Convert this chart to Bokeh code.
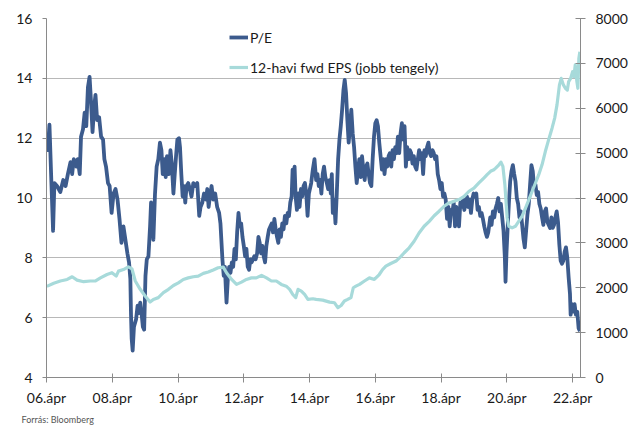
from bokeh.plotting import figure
from bokeh.models import (Range1d, LinearAxis, FixedTicker, Legend, LegendItem, Title)
from bokeh.embed import file_html
from bokeh.resources import INLINE

# ---- data (decimal years) ----
pe_year = [
    2006.26, 2006.29, 2006.34, 2006.39, 2006.45, 2006.49, 2006.57, 2006.67, 2006.76, 2006.83, 2006.90, 2006.98,
    2007.03, 2007.08, 2007.16, 2007.20, 2007.26, 2007.30, 2007.36, 2007.41, 2007.46, 2007.51, 2007.56, 2007.60,
    2007.65, 2007.70, 2007.74, 2007.79, 2007.85, 2007.91, 2007.97,
    2008.01, 2008.06, 2008.12, 2008.17, 2008.23, 2008.29, 2008.35, 2008.41, 2008.47, 2008.53, 2008.59, 2008.65,
    2008.71, 2008.76, 2008.80, 2008.82, 2008.84, 2008.87, 2008.91, 2008.975,
    2009.02, 2009.06, 2009.10, 2009.14, 2009.18, 2009.22, 2009.26, 2009.30, 2009.35, 2009.40, 2009.43, 2009.47,
    2009.50, 2009.55, 2009.60, 2009.65, 2009.70, 2009.745, 2009.785, 2009.835, 2009.875, 2009.915, 2009.97,
    2010.02, 2010.06, 2010.11, 2010.15, 2010.19, 2010.23, 2010.28, 2010.31, 2010.35, 2010.39, 2010.43, 2010.47,
    2010.51, 2010.56, 2010.61, 2010.66, 2010.715, 2010.775, 2010.835, 2010.895, 2010.935, 2010.99,
    2011.04, 2011.10, 2011.14, 2011.18, 2011.22, 2011.27, 2011.32, 2011.38, 2011.44, 2011.50, 2011.54,
    2011.60, 2011.64, 2011.675, 2011.705, 2011.725, 2011.765, 2011.806, 2011.846, 2011.887, 2011.927, 2011.967,
    2012.008, 2012.048, 2012.089, 2012.129, 2012.17, 2012.21, 2012.25, 2012.29, 2012.33, 2012.37, 2012.41,
    2012.45, 2012.49, 2012.53, 2012.57, 2012.61, 2012.655, 2012.695, 2012.735, 2012.775, 2012.815, 2012.856,
    2012.897, 2012.937, 2012.978,
    2013.018, 2013.058, 2013.099, 2013.139, 2013.18, 2013.22, 2013.26, 2013.30, 2013.34, 2013.38, 2013.42,
    2013.46, 2013.50, 2013.543, 2013.584, 2013.624, 2013.664, 2013.705, 2013.735, 2013.765, 2013.795, 2013.826,
    2013.866, 2013.907, 2013.947, 2013.988,
    2014.028, 2014.068, 2014.109, 2014.149, 2014.19, 2014.23, 2014.30, 2014.35, 2014.40, 2014.45, 2014.49,
    2014.53, 2014.57, 2014.61, 2014.65, 2014.69, 2014.73, 2014.775, 2014.816, 2014.856, 2014.896, 2014.927,
    2014.957, 2014.997,
    2015.038, 2015.078, 2015.119, 2015.159, 2015.199, 2015.24, 2015.28, 2015.32, 2015.36, 2015.40, 2015.44,
    2015.48, 2015.52, 2015.563, 2015.604, 2015.644, 2015.684, 2015.725, 2015.765, 2015.806, 2015.846, 2015.886,
    2015.927, 2015.967,
    2016.008, 2016.048, 2016.088, 2016.129, 2016.169, 2016.21, 2016.25, 2016.29, 2016.33, 2016.37, 2016.41,
    2016.45, 2016.49, 2016.53, 2016.573, 2016.614, 2016.654, 2016.694, 2016.735, 2016.775, 2016.816, 2016.856,
    2016.896, 2016.937, 2016.977,
    2017.017, 2017.058, 2017.098, 2017.139, 2017.179, 2017.22, 2017.26, 2017.30, 2017.34, 2017.38, 2017.42,
    2017.462, 2017.502, 2017.543, 2017.583, 2017.623, 2017.664, 2017.704, 2017.745, 2017.785, 2017.825, 2017.866,
    2017.906, 2017.947, 2017.987,
    2018.027, 2018.068, 2018.108, 2018.149, 2018.189, 2018.23, 2018.27, 2018.31, 2018.35, 2018.39, 2018.431,
    2018.472, 2018.512, 2018.553, 2018.593, 2018.634, 2018.674, 2018.714, 2018.755, 2018.795, 2018.836, 2018.876,
    2018.916, 2018.957, 2018.997,
    2019.037, 2019.078, 2019.118, 2019.159, 2019.199, 2019.24, 2019.28, 2019.32, 2019.36, 2019.40, 2019.441,
    2019.482, 2019.522, 2019.563, 2019.603, 2019.644, 2019.684, 2019.745, 2019.786, 2019.826, 2019.867, 2019.907,
    2019.947, 2019.988,
    2020.028, 2020.069, 2020.109, 2020.149, 2020.19, 2020.21, 2020.24, 2020.27, 2020.311, 2020.351, 2020.392,
    2020.432, 2020.473, 2020.513, 2020.553, 2020.594, 2020.634, 2020.675, 2020.715, 2020.755, 2020.796, 2020.836,
    2020.877, 2020.917, 2020.957, 2020.998,
    2021.038, 2021.079, 2021.119, 2021.16, 2021.20, 2021.24, 2021.28, 2021.321, 2021.361, 2021.402, 2021.442,
    2021.483, 2021.523, 2021.564, 2021.604, 2021.644, 2021.685, 2021.725, 2021.766, 2021.806, 2021.846, 2021.887,
    2021.927, 2021.968,
    2022.008, 2022.048, 2022.089, 2022.129, 2022.17, 2022.19, 2022.23, 2022.27, 2022.31, 2022.35, 2022.392,
    2022.432, 2022.473,
]
pe_value = [
    11.7, 11.6, 12.45, 10.8, 8.9, 10.5, 10.4, 10.2, 10.6, 10.4, 10.8, 11.2,
    10.8, 11.3, 11.05, 11.3, 10.8, 12.05, 12.3, 12.85, 12.4, 13.7, 14.05, 13.3,
    12.2, 13.05, 13.45, 12.6, 12.7, 12.05, 11.95,
    11.3, 11.05, 10.5, 10.4, 9.5, 10.15, 10.3, 9.95, 9.3, 8.5, 9.05, 8.6,
    8.15, 7.85, 7.3, 6.1, 5.3, 4.9, 5.7, 5.95,
    6.4, 6.15, 6.5, 6.15, 5.7, 5.6, 7.4, 7.95, 8.05, 9.05, 9.85, 9.4,
    8.6, 10.15, 11.05, 11.3, 11.85, 11.6, 10.8, 11.3, 10.7, 11.4, 10.8,
    11.6, 11.15, 10.15, 10.8, 11.4, 11.95, 12.0, 11.7, 10.8, 10.05, 10.4, 9.85,
    10.4, 10.5, 10.3, 10.05, 10.5, 10.4, 10.5, 9.4, 9.7, 9.85,
    10.15, 9.95, 10.3, 9.7, 10.05, 10.4, 9.95, 10.15, 9.7, 9.5, 9.15,
    7.95, 7.4, 7.7, 6.95, 6.5, 7.3, 7.7, 7.5, 7.85, 7.7, 8.3,
    7.95, 8.85, 9.5, 9.05, 9.15, 8.7, 8.4, 8.05, 8.3, 7.7, 7.6,
    7.95, 7.85, 7.95, 8.05, 7.95, 8.15, 8.7, 8.5, 8.15, 8.4, 8.05,
    7.85, 8.4, 8.7,
    8.95, 9.05, 9.15, 8.85, 9.3, 8.95, 8.7, 8.5, 8.95, 8.7, 9.15,
    8.95, 9.4, 9.15, 9.5, 9.4, 9.85, 10.05, 10.95, 10.7, 11.05, 10.05,
    9.6, 10.15, 9.7, 10.3,
    10.05, 10.4, 10.5, 10.15, 9.4, 10.15, 10.5, 10.95, 11.3, 10.6, 10.8,
    10.4, 10.6, 10.15, 10.8, 11.05, 10.7, 10.5, 10.3, 10.6, 10.15, 10.8,
    9.5, 9.95,
    9.15, 10.15, 11.3, 11.95, 12.4, 12.95, 13.6, 13.95, 13.5, 12.6, 11.85,
    12.4, 12.95, 12.15, 11.7, 11.05, 10.5, 10.95, 11.3, 10.7, 11.4, 10.95,
    10.6, 11.05,
    11.15, 10.8, 10.5, 10.4, 11.3, 12.05, 12.5, 12.6, 12.4, 11.85, 11.4,
    10.95, 11.3, 10.8, 11.3, 11.05, 11.4, 11.5, 11.05, 11.6, 11.3, 11.7,
    11.5, 12.05, 11.5,
    12.15, 12.5, 11.95, 12.4, 11.05, 11.7, 11.3, 11.6, 11.5, 11.15, 11.4,
    11.05, 10.95, 11.3, 11.6, 11.3, 11.5, 10.8, 11.6, 11.4, 11.7, 11.85,
    11.5, 11.4, 11.6,
    11.5, 11.3, 11.4, 10.8, 10.6, 10.3, 10.5, 10.05, 10.15, 9.95, 9.3,
    9.7, 9.05, 9.6, 9.5, 9.85, 9.05, 9.7, 9.4, 9.05, 9.85, 9.7,
    9.95, 9.6, 9.85,
    10.05, 9.7, 9.95, 9.5, 9.95, 10.15, 10.05, 10.15, 9.6, 9.7, 9.4,
    9.5, 9.3, 9.05, 8.85, 8.7, 8.85, 9.35, 9.1, 9.55, 9.35, 9.65,
    9.8, 10.0,
    9.55, 9.8, 9.35, 8.9, 8.0, 7.2, 8.2, 8.9, 9.8, 10.55, 10.9,
    11.1, 10.8, 10.55, 10.0, 9.8, 9.35, 9.55, 9.1, 8.65, 8.35, 8.9,
    9.45, 9.8, 10.45, 11.1,
    10.9, 10.35, 10.45, 10.1, 10.2, 9.8, 9.65, 9.35, 9.1, 9.55, 9.65,
    9.2, 9.1, 9.0, 9.35, 9.0, 9.1, 9.35, 9.55, 9.2, 8.45, 7.9,
    7.8, 7.9,
    8.2, 8.35, 8.0, 7.35, 6.8, 6.1, 6.45, 6.2, 6.45, 6.1, 6.2,
    5.65, 5.55,
]

eps_year = [
    2006.26, 2006.47, 2006.67, 2006.88, 2007.03, 2007.18, 2007.38, 2007.58, 2007.73, 2007.89, 2008.09, 2008.24,
    2008.37, 2008.44, 2008.59, 2008.74, 2008.85, 2008.95, 2009.10, 2009.25, 2009.40, 2009.50, 2009.65, 2009.805,
    2009.96, 2010.11, 2010.26, 2010.41, 2010.56, 2010.715, 2010.865, 2011.02, 2011.17, 2011.32, 2011.47, 2011.625,
    2011.725, 2011.88, 2012.03, 2012.18, 2012.33, 2012.48, 2012.63, 2012.79, 2012.94, 2013.09, 2013.24, 2013.39,
    2013.54, 2013.645, 2013.74, 2013.83, 2013.90, 2014.00, 2014.10, 2014.20, 2014.35, 2014.45, 2014.65, 2014.86,
    2015.01, 2015.11, 2015.21, 2015.31, 2015.41, 2015.51, 2015.58, 2015.66, 2015.77, 2015.92, 2016.07, 2016.22,
    2016.37, 2016.47, 2016.57, 2016.72, 2016.88, 2017.03, 2017.13, 2017.28, 2017.43, 2017.58, 2017.735, 2017.89,
    2018.04, 2018.19, 2018.34, 2018.49, 2018.64, 2018.795, 2018.95, 2019.10, 2019.25, 2019.40, 2019.55, 2019.65,
    2019.755, 2019.855, 2019.91, 2020.01, 2020.07, 2020.13, 2020.19, 2020.26, 2020.31, 2020.41, 2020.51, 2020.61,
    2020.715, 2020.82, 2020.92, 2021.02, 2021.12, 2021.22, 2021.32, 2021.42, 2021.52, 2021.625, 2021.705, 2021.775,
    2021.85, 2021.905, 2021.97, 2022.03, 2022.09, 2022.13, 2022.19, 2022.25, 2022.29, 2022.33, 2022.38, 2022.41,
    2022.44, 2022.47,
]
eps_value = [
    2030, 2100, 2150, 2185, 2245, 2170, 2135, 2150, 2150, 2220, 2295, 2335,
    2260, 2370, 2405, 2465, 2420, 2150, 1965, 1815, 1680, 1740, 1780, 1890,
    1965, 2050, 2110, 2185, 2220, 2245, 2260, 2320, 2350, 2395, 2445, 2460,
    2335, 2185, 2075, 2125, 2185, 2220, 2220, 2275, 2220, 2150, 2150, 2075,
    2035, 1965, 1850, 1780, 1965, 1925, 1850, 1740, 1755, 1740, 1725, 1680,
    1665, 1555, 1605, 1705, 1740, 1780, 2000, 2035, 2075, 2150, 2220, 2185,
    2295, 2405, 2480, 2540, 2595, 2700, 2780, 2890, 3035, 3220, 3370, 3480,
    3605, 3705, 3815, 3890, 3925, 3965, 4035, 4150, 4220, 4335, 4445, 4520,
    4595, 4630, 4665, 4740, 4800, 4705, 4295, 3555, 3370, 3335, 3370, 3480,
    3595, 3780, 3965, 4150, 4335, 4520, 4740, 5035, 5295, 5555, 5780, 6075,
    6520, 6665, 6520, 6445, 6405, 6595, 6665, 6815, 6705, 6965, 6595, 6445,
    7110, 7260,
]

tick_years = [2006, 2008, 2010, 2012, 2014, 2016, 2018, 2020, 2022]
tick_labels = ["06.ápr", "08.ápr", "10.ápr", "12.ápr", "14.ápr", "16.ápr", "18.ápr", "20.ápr", "22.ápr"]
left_ticks = [4, 6, 8, 10, 12, 14, 16]
right_ticks = [0, 1000, 2000, 3000, 4000, 5000, 6000, 7000, 8000]
source_text = "Forrás: Bloomberg"

PE_COLOR = "#3c5b8d"
EPS_COLOR = "#a7dada"
FONT = "Lato"
AX_COLOR = "#8a8a8a"
TXT = "#1a1a1a"

x_ticks = [y + 0.25 for y in tick_years]  # April

p = figure(width=630, height=427, output_backend="svg", toolbar_location=None,
           x_range=Range1d(2006.25, 2022.49), y_range=Range1d(4, 16),
           min_border_left=46, min_border_right=48, min_border_top=18, min_border_bottom=50)
p.extra_y_ranges = {"eps": Range1d(0, 8000)}
p.outline_line_color = None
p.background_fill_color = "white"
p.border_fill_color = "white"

pe = p.line(pe_year, pe_value, line_color=PE_COLOR, line_width=3.8, line_join="round")
eps = p.line(eps_year, eps_value, line_color=EPS_COLOR, line_width=3.2, line_join="round", y_range_name="eps")

# x axis
xa = p.xaxis[0]
xa.ticker = FixedTicker(ticks=x_ticks)
xa.major_label_overrides = {t: l for t, l in zip(x_ticks, tick_labels)}
xa.minor_tick_line_color = None
xa.major_tick_in = 4
xa.major_tick_out = 5
xa.axis_line_color = AX_COLOR
xa.major_tick_line_color = AX_COLOR
xa.major_label_standoff = 6
xa.major_label_text_font = FONT
xa.major_label_text_font_size = "14px"
xa.major_label_text_color = TXT

# left axis
ya = p.yaxis[0]
ya.ticker = FixedTicker(ticks=left_ticks)
ya.minor_tick_line_color = None
ya.major_tick_in = 0
ya.major_tick_out = 4
ya.axis_line_color = AX_COLOR
ya.major_tick_line_color = AX_COLOR
ya.major_label_standoff = 10
ya.major_label_text_font = FONT
ya.major_label_text_font_size = "14px"
ya.major_label_text_color = TXT

# right axis
ra = LinearAxis(y_range_name="eps", ticker=FixedTicker(ticks=right_ticks))
ra.minor_tick_line_color = None
ra.major_tick_in = 5
ra.major_tick_out = 5
ra.axis_line_color = AX_COLOR
ra.major_tick_line_color = AX_COLOR
ra.major_label_standoff = 10
ra.major_label_text_font = FONT
ra.major_label_text_font_size = "14px"
ra.major_label_text_color = TXT
p.add_layout(ra, "right")

p.xgrid.grid_line_color = None
p.ygrid.grid_line_color = "#707070"
p.ygrid.grid_line_dash = "1 1"
p.ygrid.grid_line_width = 1

legend = Legend(items=[LegendItem(label="P/E", renderers=[pe]),
                       LegendItem(label="12-havi fwd EPS (jobb tengely)", renderers=[eps])],
                location=(183, 300), orientation="vertical",
                glyph_width=19, glyph_height=20, label_height=20, spacing=10,
                padding=0, margin=0, label_standoff=2,
                border_line_color=None, background_fill_alpha=0,
                label_text_font=FONT, label_text_font_size="14px", label_text_color=TXT)
p.add_layout(legend, "center")

src = Title(text=source_text, align="left", offset=-25, standoff=6,
            text_font=FONT, text_font_size="9px", text_color="#555555", text_font_style="normal")
p.add_layout(src, "below")

open("out.html", "w").write(file_html(p, INLINE))
